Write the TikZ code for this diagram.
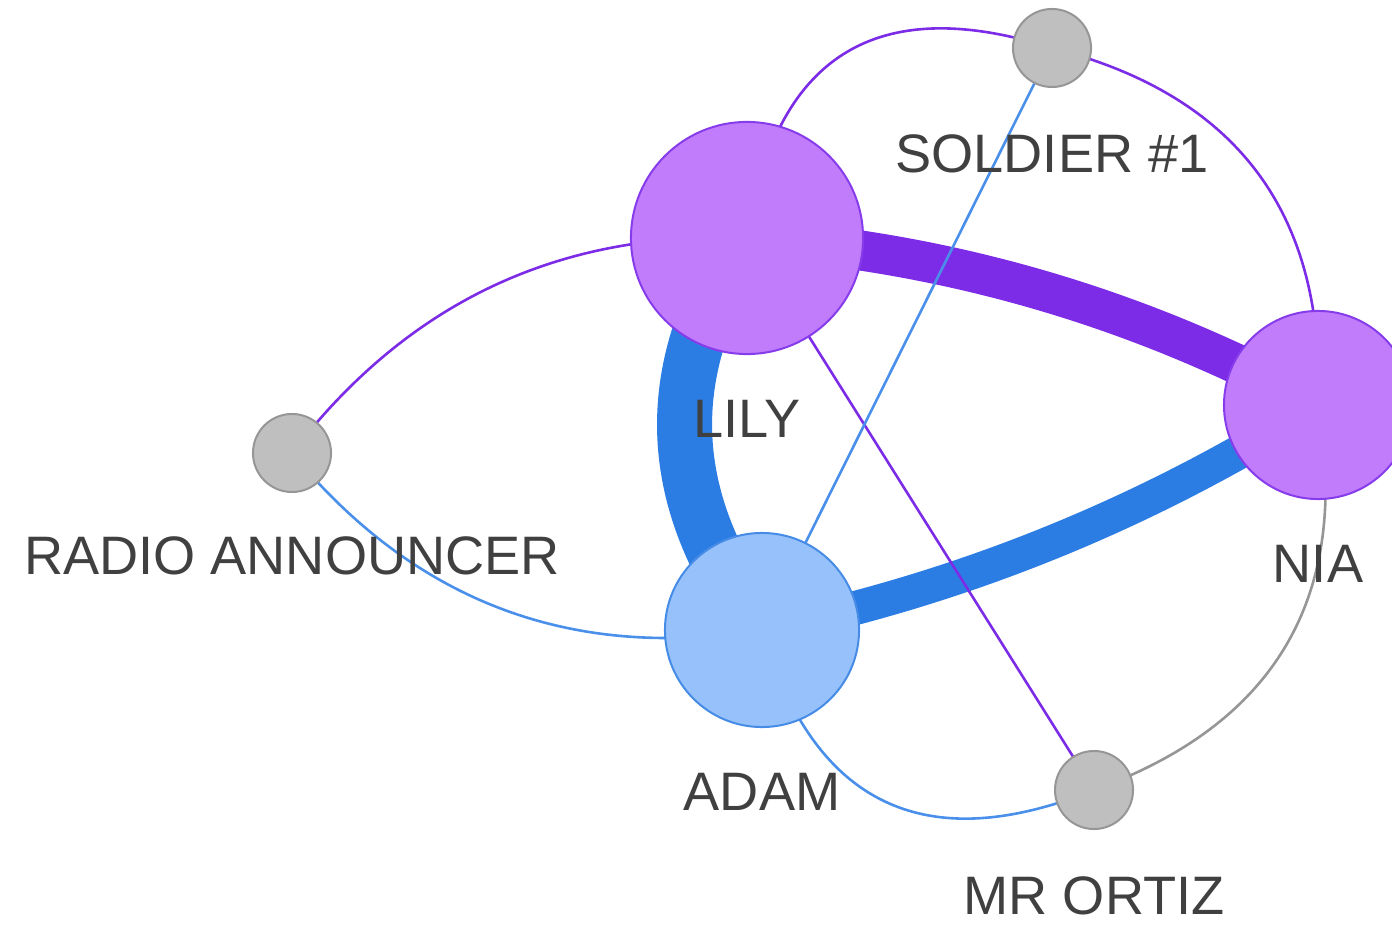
\documentclass[tikz,border=0pt]{standalone}
\usepackage{fontspec}
\setmainfont{Liberation Sans}
\usepackage{tikz}
\usetikzlibrary{positioning}
\pgfdeclarelayer{edges}
\pgfsetlayers{edges,main}

\begin{document}
\begin{tikzpicture}
	[x=0.01cm,y=-0.01cm,line cap=round,
	%Styles
	character/.style={circle,inner sep=0pt,outer sep=0pt,line width=0.02cm,draw=#1line,fill=#1fill},
	strong tie/.style={line width=#1},
	weak tie/.style={line width=0.026cm},
	name text/.style={inner sep=0pt,text height=0.39cm,text depth=0pt,text=textcolor,font=\fontsize{15.4}{18}\selectfont}
	]
	
	%Colors
	\definecolor{purplefill}{RGB}{192,124,250}
	\definecolor{purpleline}{RGB}{135,60,235}
	\definecolor{bluefill}{RGB}{151,193,250}
	\definecolor{blueline}{RGB}{70,140,230}
	\definecolor{grayfill}{RGB}{191,191,191}
	\definecolor{grayline}{RGB}{150,150,150}
	\definecolor{purpleedge}{RGB}{124,44,230}
	\definecolor{blueedge}{RGB}{43,125,228}
	\definecolor{lightblueedge}{RGB}{74,144,235}
	\definecolor{textcolor}{RGB}{64,64,64}
	
	\useasboundingbox (0,0) rectangle (1392,928);
	\clip (0,0) rectangle (1392,928);
	
	%The graphic
	\node[character=purple,minimum size=2.32cm] (lily) at (747,238) {};
	\node[character=purple,minimum size=1.88cm] (nia) at (1318,405) {};
	\node[character=blue,minimum size=1.94cm] (adam) at (762,630) {};
	\node[character=gray,minimum size=0.78cm] (soldier) at (1052,48) {};
	\node[character=gray,minimum size=0.78cm] (radio) at (292,453) {};
	\node[character=gray,minimum size=0.78cm] (ortiz) at (1094,790) {};
	
	\begin{pgfonlayer}{edges}
		\draw[strong tie=0.40cm,purpleedge] (lily.center) .. controls (949,252) and (1140,308) .. (nia.center);
		\draw[strong tie=0.55cm,blueedge] (lily.center) .. controls (659,370) and (664,501) .. (adam.center);
		\draw[strong tie=0.34cm,blueedge] (adam.center) .. controls (961,589) and (1146,514) .. (nia.center);
		
		\draw[weak tie,purpleedge] (lily.center) .. controls (775,56) and (876,-8) .. (soldier.center);
		\draw[weak tie,purpleedge] (soldier.center) .. controls (1237,95) and (1326,214) .. (nia.center);
		\draw[weak tie,purpleedge] (lily.center) .. controls (558,231) and (407,303) .. (radio.center);
		\draw[weak tie,purpleedge] (lily) -- (ortiz);
		\draw[weak tie,lightblueedge] (soldier) -- (adam);
		\draw[weak tie,lightblueedge] (radio.center) .. controls (415,602) and (572,661) .. (adam.center);
		\draw[weak tie,lightblueedge] (adam.center) .. controls (814,805) and (925,858) .. (ortiz.center);
		\draw[weak tie,grayline] (nia.center) .. controls (1351,596) and (1276,724) .. (ortiz.center);
	\end{pgfonlayer}
	
	\node[name text,below=0.44cm of lily] (lilyname) {LILY};
	\node[name text,below=0.44cm of nia] (nianame) {NIA};
	\node[name text,below=0.44cm of adam] (adamname) {ADAM};
	\node[name text,below=0.46cm of soldier] (soldiername) {SOLDIER \#1};
	\node[name text,below=0.43cm of radio] (radioname) {RADIO ANNOUNCER};
	\node[name text,below=0.46cm of ortiz] (ortizname) {MR ORTIZ};
\end{tikzpicture}
\end{document}
